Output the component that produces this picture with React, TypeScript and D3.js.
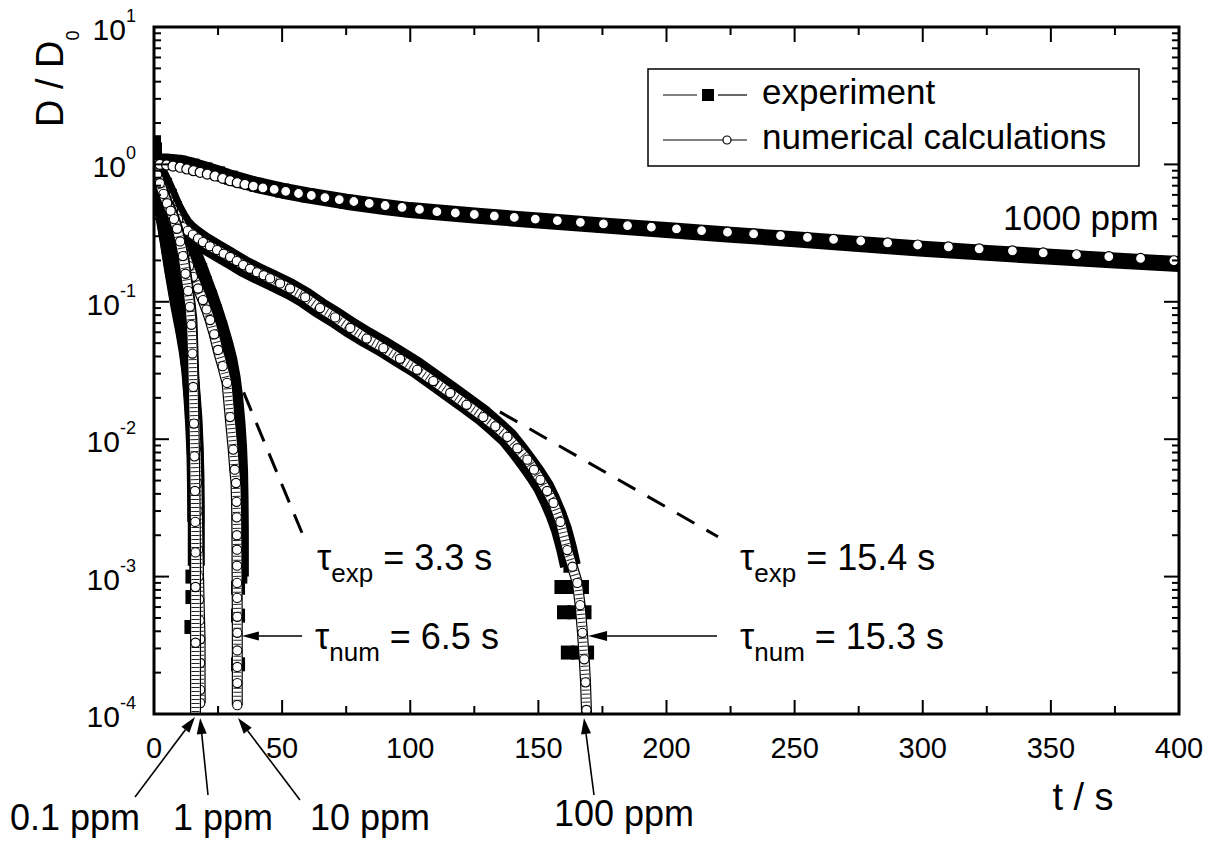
import React from "react";
import * as d3 from "d3";

const FONT = "'Liberation Sans', Arial, Helvetica, sans-serif";

// ---------- axes ----------
const xDomain = [0, 400];
const yDomain = [1e-4, 10];
const xMajorTicks = [0, 50, 100, 150, 200, 250, 300, 350, 400];
const xMinorTicks = [25, 75, 125, 175, 225, 275, 325, 375];
const yDecadeExps = [-4, -3, -2, -1, 0, 1];
const yMinorMult = [2, 3, 4, 5, 6, 7, 8, 9];

// ---------- experiment (t in s, D/D0) ----------
const exp1000T = [0, 0, 0.5, 2, 5, 10, 15, 20, 25, 30, 40, 50, 60, 75, 90, 100, 125, 150, 175, 200, 225, 250, 275, 300, 325, 350, 375, 400];
const exp1000D = [1.45, 1.2, 1.07, 1.05, 1.05, 1.03, 0.98, 0.92, 0.86, 0.8, 0.71, 0.645, 0.595, 0.535, 0.49, 0.465, 0.425, 0.39, 0.36, 0.333, 0.308, 0.285, 0.263, 0.243, 0.227, 0.213, 0.2, 0.188];

const exp100T = [0, 1.2, 2.7, 4.3, 5.9, 7.4, 9.4, 11.3, 13.2, 15.2, 19.1, 24.6, 29.7, 34.8, 40.2, 45.3, 53.1, 59, 64.8, 70.7, 76.6, 83, 89.5, 96, 102.7, 109, 115.6, 122, 128.5, 133, 138, 142, 146, 149, 152, 154.5, 157, 159, 161, 162.5];
const exp100D = [1.0, 0.86, 0.75, 0.64, 0.55, 0.48, 0.41, 0.36, 0.33, 0.307, 0.272, 0.236, 0.208, 0.182, 0.162, 0.146, 0.124, 0.107, 0.09, 0.077, 0.065, 0.055, 0.047, 0.0395, 0.033, 0.0272, 0.0222, 0.0182, 0.0148, 0.0125, 0.0103, 0.0083, 0.0066, 0.0055, 0.0045, 0.0036, 0.0028, 0.0022, 0.0016, 0.0012];
const exp100TailT = [159, 160, 161.5, 163, 164, 165.5, 167, 168, 169];
const exp100TailD = [8.4e-4, 5.5e-4, 2.8e-4, 8.4e-4, 5.5e-4, 2.8e-4, 8.4e-4, 5.5e-4, 2.8e-4];

const exp10T = [0, 2, 4.3, 6.2, 8.2, 10.2, 12.1, 14, 16, 18, 19.9, 21.9, 23.8, 25.8, 27.7, 29.2, 30.5, 31.5, 32.4, 33, 33.4, 33.6, 33.7, 33.7, 33.7];
const exp10D = [1.0, 0.86, 0.71, 0.59, 0.48, 0.385, 0.31, 0.26, 0.21, 0.17, 0.136, 0.108, 0.085, 0.065, 0.049, 0.038, 0.028, 0.02, 0.013, 0.0088, 0.0058, 0.0035, 0.0021, 0.0013, 0.001];
const exp10TailT = [32.8, 32.8, 32.8];
const exp10TailD = [8.3e-4, 5.2e-4, 2.3e-4];

const exp1T = [0, 1.6, 3.5, 5.5, 7.4, 9.4, 11.7, 13, 14, 14.8, 15.6, 16.1, 16.4, 16.5, 16.5];
const exp1D = [1.0, 0.72, 0.47, 0.285, 0.172, 0.105, 0.063, 0.046, 0.033, 0.022, 0.014, 0.0085, 0.0051, 0.003, 0.0012];
const exp1TailT = [15.0, 16.2];
const exp1TailD = [7.1e-4, 4.3e-4];

const exp01T = [0, 1.6, 3.5, 5.5, 7.4, 9.4, 11.7, 13, 14, 14.8, 15.5, 16, 16.2, 16.3];
const exp01D = [1.0, 0.7, 0.46, 0.275, 0.165, 0.1, 0.06, 0.043, 0.031, 0.02, 0.0125, 0.0075, 0.0045, 0.0025];
const exp01TailT = [15.0, 14.6];
const exp01TailD = [1.0e-3, 4.3e-4];

// ---------- numerical calculations ----------
const num1000T = [0, 2.3, 4.9, 7.4, 10.2, 12.8, 15.4, 18, 20.8, 23.8, 26.8, 29.7, 32.5, 35.5, 38.8, 42.5, 46.9, 51.4, 56.4, 61.4, 66.7, 72.3, 78, 84, 90.2, 96.8, 103.6, 110.4, 117.6, 125, 132.8, 140.6, 148.8, 157.4, 166.4, 175.4, 184.8, 194.1, 203.9, 213.7, 223.8, 234, 244.5, 255, 265.2, 275.8, 286.3, 298, 310, 322, 335, 347, 360, 372.6, 385, 398];
const num1000D = [1.0, 1.0, 0.99, 0.973, 0.953, 0.926, 0.9, 0.876, 0.851, 0.823, 0.792, 0.761, 0.736, 0.716, 0.696, 0.674, 0.657, 0.637, 0.614, 0.594, 0.574, 0.555, 0.537, 0.52, 0.502, 0.486, 0.47, 0.453, 0.443, 0.432, 0.421, 0.411, 0.4, 0.39, 0.379, 0.369, 0.359, 0.349, 0.339, 0.33, 0.321, 0.312, 0.303, 0.294, 0.285, 0.277, 0.268, 0.259, 0.251, 0.243, 0.235, 0.227, 0.22, 0.213, 0.207, 0.199];

const num100T = [0, 1.2, 2.7, 4.3, 5.9, 7.4, 9.4, 11.3, 13.2, 15.2, 17.2, 19.1, 21.8, 24.6, 27.2, 29.7, 32.3, 34.8, 37.5, 40.2, 42.8, 45.3, 49.2, 53.1, 59, 64.8, 70.7, 76.6, 83, 89.5, 96, 102.7, 109, 115.6, 122, 128.5, 133.2, 137.9, 141.8, 145.7, 148.3, 150.8, 153.4, 155.9, 158.6, 161.3, 163.3, 165.2, 166.3, 167.2, 167.9, 168.4, 168.75, 169.1];
const num100D = [1.0, 0.86, 0.74, 0.63, 0.54, 0.47, 0.4, 0.35, 0.328, 0.308, 0.289, 0.272, 0.254, 0.238, 0.224, 0.212, 0.198, 0.185, 0.174, 0.164, 0.156, 0.148, 0.136, 0.125, 0.108, 0.09, 0.077, 0.0645, 0.054, 0.046, 0.0385, 0.032, 0.0265, 0.0217, 0.0178, 0.0145, 0.0124, 0.0104, 0.0086, 0.0071, 0.006, 0.00506, 0.0042, 0.00344, 0.0025, 0.00156, 0.00118, 0.0009, 0.00062, 0.00039, 0.00025, 0.00017, 0.000107, 0.00008];

const num10T = [0, 1.2, 2.3, 3.7, 5.1, 6.6, 8.2, 10.1, 12.1, 13.7, 15.2, 17.2, 19.1, 20.5, 21.9, 23.5, 25, 26.8, 28.5, 29.7, 30.9, 31.5, 32, 32.2, 32.3, 32.35, 32.4, 32.4, 32.45, 32.45, 32.5, 32.5, 32.5, 32.5, 32.5, 32.5];
const num10D = [1.0, 0.85, 0.74, 0.63, 0.53, 0.44, 0.36, 0.285, 0.222, 0.182, 0.152, 0.125, 0.103, 0.088, 0.0737, 0.058, 0.0446, 0.034, 0.0257, 0.0145, 0.0084, 0.006, 0.0048, 0.0035, 0.0027, 0.002, 0.00157, 0.0012, 0.0009, 0.0007, 0.00051, 0.00039, 0.00029, 0.00022, 0.000168, 0.000116];

const num1T = [0, 1.2, 2.3, 3.7, 5.1, 6.5, 7.8, 9, 10.2, 11.3, 12.3, 13.3, 14.1, 14.8, 15.2, 15.6, 16, 16.4, 16.8, 17, 17.2, 17.4, 17.6, 17.8, 18, 18, 18, 18.05];
const num1D = [1.0, 0.85, 0.74, 0.62, 0.53, 0.47, 0.41, 0.35, 0.285, 0.226, 0.17, 0.128, 0.097, 0.074, 0.0446, 0.026, 0.0145, 0.0085, 0.0048, 0.003, 0.00157, 0.001, 0.00068, 0.00048, 0.00035, 0.000235, 0.00015, 0.00012];

const num01T = [0, 1.2, 2.3, 3.7, 5.1, 6.5, 7.8, 9, 10.2, 11.3, 12.3, 13.3, 14, 14.6, 15, 15.3, 15.6, 15.8, 16, 16.1, 16.2, 16.2, 16.2, 16.2];
const num01D = [1.0, 0.84, 0.73, 0.61, 0.52, 0.46, 0.4, 0.34, 0.275, 0.215, 0.16, 0.12, 0.092, 0.068, 0.042, 0.024, 0.013, 0.0075, 0.0042, 0.0025, 0.0015, 0.00084, 0.00033, 0.00005];

// ---------- text ----------
const legendLabels = ["experiment", "numerical calculations"];
const concLabels = ["0.1 ppm", "1 ppm", "10 ppm", "100 ppm"];
const concArrowTipT = [16, 18, 32.8, 167.8];

const zip = (T: number[], D: number[]) => T.map((t, i) => [t, D[i]] as [number, number]);

function Arrow({ x1, y1, x2, y2, head = 17, hw = 5, sw = 1.6 }: any) {
  const dx = x2 - x1, dy = y2 - y1;
  const L = Math.hypot(dx, dy);
  const ux = dx / L, uy = dy / L;
  const bx = x2 - ux * head, by = y2 - uy * head;
  const px = -uy * hw, py = ux * hw;
  return (
    <g>
      <line x1={x1} y1={y1} x2={bx} y2={by} stroke="black" strokeWidth={sw} />
      <polygon points={`${x2},${y2} ${bx + px},${by + py} ${bx - px},${by - py}`} fill="black" />
    </g>
  );
}

export default function App() {
  const x = d3.scaleLinear().domain(xDomain).range([154, 1179]);
  const y = d3.scaleLog().domain(yDomain).range([714, 27]);
  const line = d3.line<[number, number]>().x((d) => x(d[0])).y((d) => y(d[1]));
  const L = x.range()[0], R = x.range()[1], B = y.range()[0], T = y.range()[1];

  const expBands: [Array<[number, number]>, number][] = [
    [zip(exp1000T, exp1000D), 16],
    [zip(exp100T, exp100D), 21],
    [zip(exp10T, exp10D), 17],
    [zip(exp1T, exp1D), 17],
    [zip(exp01T, exp01D), 17],
  ];
  const expTails = [
    zip(exp100TailT, exp100TailD),
    zip(exp10TailT, exp10TailD),
    zip(exp1TailT, exp1TailD),
    zip(exp01TailT, exp01TailD),
  ];
  const numSteep = [zip(num100T, num100D), zip(num10T, num10D), zip(num1T, num1D), zip(num01T, num01D)];
  const num1000 = zip(num1000T, num1000D);

  const SQ = 14;
  const yMinor: number[] = [];
  yDecadeExps.slice(0, -1).forEach((e) => yMinorMult.forEach((m) => yMinor.push(m * Math.pow(10, e))));

  return (
    <svg width={1218} height={849} style={{ position: "absolute", left: 0, top: 0, background: "white" }} fontFamily={FONT}>
      <defs>
        <clipPath id="plot">
          <rect x={L} y={T} width={R - L} height={B - T} />
        </clipPath>
      </defs>
      <rect x={0} y={0} width={1218} height={849} fill="white" />

      <g clipPath="url(#plot)">
        {/* experiment bands: many overlapping squares */}
        {expBands.map(([s, w], i) => (
          <g key={"eb" + i}>
            <path d={line(s) || ""} fill="none" stroke="black" strokeWidth={w} strokeLinejoin="round" />
            {s.map((d, j) => (
              <rect key={j} x={x(d[0]) - SQ / 2} y={y(d[1]) - SQ / 2} width={SQ} height={SQ} fill="black" />
            ))}
          </g>
        ))}
        {expTails.map((s, i) => (
          <g key={"et" + i}>
            {s.map((d, j) => (
              <rect key={j} x={x(d[0]) - SQ / 2} y={y(d[1]) - SQ / 2} width={SQ} height={SQ} fill="black" />
            ))}
          </g>
        ))}

        {/* numerical calculations: chains of open circles */}
        {numSteep.map((s, i) => (
          <g key={"ns" + i}>
            <path d={line(s) || ""} fill="none" stroke="black" strokeWidth={11} strokeLinejoin="round" />
            <path d={line(s) || ""} fill="none" stroke="white" strokeWidth={8.6} strokeLinejoin="round" />
            <path d={line(s) || ""} fill="none" stroke="black" strokeWidth={8} strokeDasharray="1 3" strokeOpacity={0.85} />
            {s.map((d, j) => (
              <circle key={j} cx={x(d[0])} cy={y(d[1])} r={4.6} fill="white" stroke="black" strokeWidth={1.1} />
            ))}
          </g>
        ))}
        <path d={line(num1000) || ""} fill="none" stroke="black" strokeWidth={1} />
        {num1000.map((d, j) => (
          <circle key={j} cx={x(d[0])} cy={y(d[1])} r={5} fill="white" stroke="black" strokeWidth={1.2} />
        ))}
      </g>

      {/* fitted slopes (dashed) */}
      <line x1={x(30.05)} y1={y(0.0365)} x2={x(59.7)} y2={y(0.0017)} stroke="black" strokeWidth={3} strokeDasharray="20 13" />
      <line x1={x(135)} y1={y(0.0158)} x2={x(220.1)} y2={y(0.00195)} stroke="black" strokeWidth={3} strokeDasharray="20 14" />

      {/* tau annotations */}
      <Arrow x1={x(57.8)} y1={y(3.7e-4)} x2={x(34.3)} y2={y(3.7e-4)} head={17} hw={4.5} />
      <Arrow x1={x(219.7)} y1={y(3.7e-4)} x2={x(169.4)} y2={y(3.7e-4)} head={19} hw={5} />
      <g fontSize={36} fill="black">
        <text x={317} y={570}>τ<tspan dy={12} fontSize={26}>exp</tspan><tspan dy={-12}>{"\u00a0= 3.3 s"}</tspan></text>
        <text x={315} y={649}>τ<tspan dy={12} fontSize={26}>num</tspan><tspan dy={-12}>{"\u00a0= 6.5 s"}</tspan></text>
        <text x={740} y={570}>τ<tspan dy={12} fontSize={26}>exp</tspan><tspan dy={-12}>{"\u00a0= 15.4 s"}</tspan></text>
        <text x={740} y={649}>τ<tspan dy={12} fontSize={26}>num</tspan><tspan dy={-12}>{"\u00a0= 15.3 s"}</tspan></text>
        <text x={1003} y={230} fontSize={35}>1000 ppm</text>
      </g>

      {/* axes frame */}
      <rect x={L} y={T} width={R - L} height={B - T} fill="none" stroke="black" strokeWidth={3} />
      <g stroke="black" strokeWidth={2}>
        {xMajorTicks.map((v) => (
          <g key={"xm" + v}>
            <line x1={x(v)} x2={x(v)} y1={B} y2={B - 14} />
            <line x1={x(v)} x2={x(v)} y1={T} y2={T + 15} />
          </g>
        ))}
        {xMinorTicks.map((v) => (
          <g key={"xn" + v}>
            <line x1={x(v)} x2={x(v)} y1={B} y2={B - 8} />
            <line x1={x(v)} x2={x(v)} y1={T} y2={T + 8} />
          </g>
        ))}
        {yDecadeExps.map((e) => (
          <g key={"ym" + e}>
            <line x1={L} x2={L + 15} y1={y(Math.pow(10, e))} y2={y(Math.pow(10, e))} />
            <line x1={R} x2={R - 15} y1={y(Math.pow(10, e))} y2={y(Math.pow(10, e))} />
          </g>
        ))}
        {yMinor.map((v, i) => (
          <g key={"yn" + i}>
            <line x1={L} x2={L + 7} y1={y(v)} y2={y(v)} />
            <line x1={R} x2={R - 7} y1={y(v)} y2={y(v)} />
          </g>
        ))}
      </g>

      {/* tick labels */}
      <g fontSize={29} fill="black" textAnchor="middle">
        {xMajorTicks.map((v) => (
          <text key={"xl" + v} x={x(v)} y={758}>{v}</text>
        ))}
      </g>
      <g fill="black" textAnchor="end">
        {yDecadeExps.map((e) => (
          <text key={"yl" + e} x={136} y={y(Math.pow(10, e)) + 13} fontSize={30}>
            10<tspan dy={-18} fontSize={18}>{String(e)}</tspan>
          </text>
        ))}
      </g>

      {/* axis titles */}
      <text x={1083} y={810} fontSize={38} textAnchor="middle">t / s</text>
      <text transform="translate(63,127) rotate(-90)" fontSize={38}>
        D / D<tspan dy={16} fontSize={18}>0</tspan>
      </text>

      {/* concentration labels with arrows */}
      <Arrow x1={135} y1={797} x2={x(concArrowTipT[0])} y2={717} head={16} hw={5} />
      <Arrow x1={208} y1={795} x2={x(concArrowTipT[1])} y2={718} head={16} hw={5} />
      <Arrow x1={300} y1={800} x2={x(concArrowTipT[2])} y2={718} head={16} hw={5} />
      <Arrow x1={594} y1={795} x2={x(concArrowTipT[3])} y2={718} head={16} hw={5} />
      <g fontSize={36} textAnchor="middle" fill="black">
        <text x={75} y={830}>{concLabels[0]}</text>
        <text x={223} y={830}>{concLabels[1]}</text>
        <text x={370} y={830}>{concLabels[2]}</text>
        <text x={624} y={826}>{concLabels[3]}</text>
      </g>

      {/* legend */}
      <rect x={648} y={69} width={491} height={97} fill="white" stroke="black" strokeWidth={1.5} />
      <line x1={663} x2={697} y1={95} y2={95} stroke="black" strokeWidth={1.2} />
      <line x1={718} x2={747} y1={95} y2={95} stroke="black" strokeWidth={1.2} />
      <rect x={702} y={89} width={12} height={12} fill="black" />
      <line x1={663} x2={747} y1={140} y2={140} stroke="black" strokeWidth={1.2} />
      <circle cx={727} cy={140} r={4} fill="white" stroke="black" strokeWidth={1.2} />
      <text x={762} y={104} fontSize={35}>{legendLabels[0]}</text>
      <text x={762} y={149} fontSize={35}>{legendLabels[1]}</text>
    </svg>
  );
}
